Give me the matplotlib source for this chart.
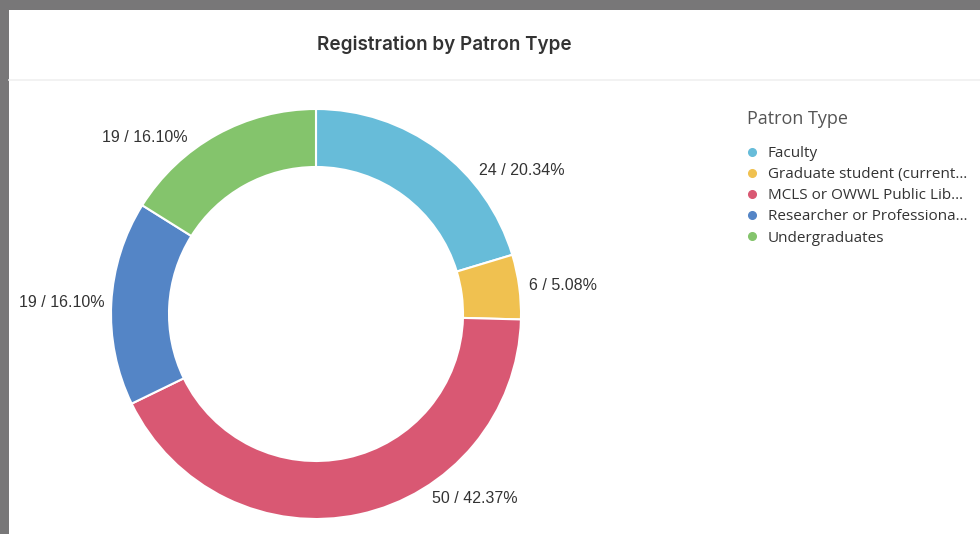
import numpy as np
import matplotlib.pyplot as plt
from matplotlib.lines import Line2D
from matplotlib.patches import Rectangle

# data
patron_types = ['Faculty', 'Graduate student (current\u2026', 'MCLS or OWWL Public Lib\u2026',
                'Researcher or Professiona\u2026', 'Undergraduates']
counts = [24, 6, 50, 19, 19]
colors = ['#67bcd9', '#f0c150', '#d95873', '#5485c6', '#84c46c']

# label placement (layout only): angle nudge in degrees, radius factor
label_nudge = [-12, 0, 20, 0, 7]
label_r = [1.06, 1.05, 1.065, 1.035, 1.065]

W, H = 980, 534
fig = plt.figure(figsize=(W / 100, H / 100), dpi=100)
fig.patch.set_facecolor('#787778')

# white card + header separator
fig.add_artist(Rectangle((9 / W, 0), 1, (H - 10) / H, transform=fig.transFigure,
                         facecolor='white', edgecolor='none', zorder=0))
fig.add_artist(Line2D([9 / W, 1], [1 - 80 / H, 1 - 80 / H], transform=fig.transFigure,
                      color='#f0f0f0', lw=1.2))
fig.text(444 / W, 1 - 45 / H, 'Registration by Patron Type', ha='center', va='center',
         fontsize=13.6, fontweight='semibold', color='#333333', family=['Inter', 'DejaVu Sans'])

# donut
cx, cy, R = 316, 314, 205
half = 230
ax = fig.add_axes([(cx - half) / W, (H - cy - half) / H, 2 * half / W, 2 * half / H])
wedges, _ = ax.pie(counts, colors=colors, startangle=90, counterclock=False, radius=1,
                   wedgeprops=dict(width=1 - 147 / R, edgecolor='white', linewidth=1.5))
lim = half / R
ax.set_xlim(-lim, lim)
ax.set_ylim(-lim, lim)
ax.set_aspect('equal')
ax.axis('off')

total = sum(counts)
start = 90.0
for i, c in enumerate(counts):
    span = c / total * 360
    mid = start - span / 2 + label_nudge[i]
    start -= span
    a = np.deg2rad(mid)
    x, y = label_r[i] * np.cos(a), label_r[i] * np.sin(a)
    ha = 'left' if x >= 0 else 'right'
    ax.text(x, y, f'{c} / {c / total * 100:.2f}%', ha=ha, va='center', fontsize=11.5,
            color='#333333', family=['Liberation Sans', 'DejaVu Sans'], clip_on=False)

# legend
handles = [Line2D([], [], marker='o', linestyle='', markersize=5.5, color=col)
           for col in colors]
leg = fig.legend(handles, patron_types, loc='upper left',
                 bbox_to_anchor=(741 / W, 1 - 104 / H), frameon=False,
                 title='Patron Type', alignment='left', handlelength=0.6, handletextpad=0.75,
                 labelspacing=0.4, borderaxespad=0,
                 prop=dict(family=['Open Sans', 'DejaVu Sans'], size=11),
                 title_fontproperties=dict(family=['Open Sans', 'DejaVu Sans'], size=13))
leg.get_title().set_color('#555555')
for t in leg.get_texts():
    t.set_color('#333333')
leg._legend_box.sep = 13

fig.savefig('out.png', dpi=100)
